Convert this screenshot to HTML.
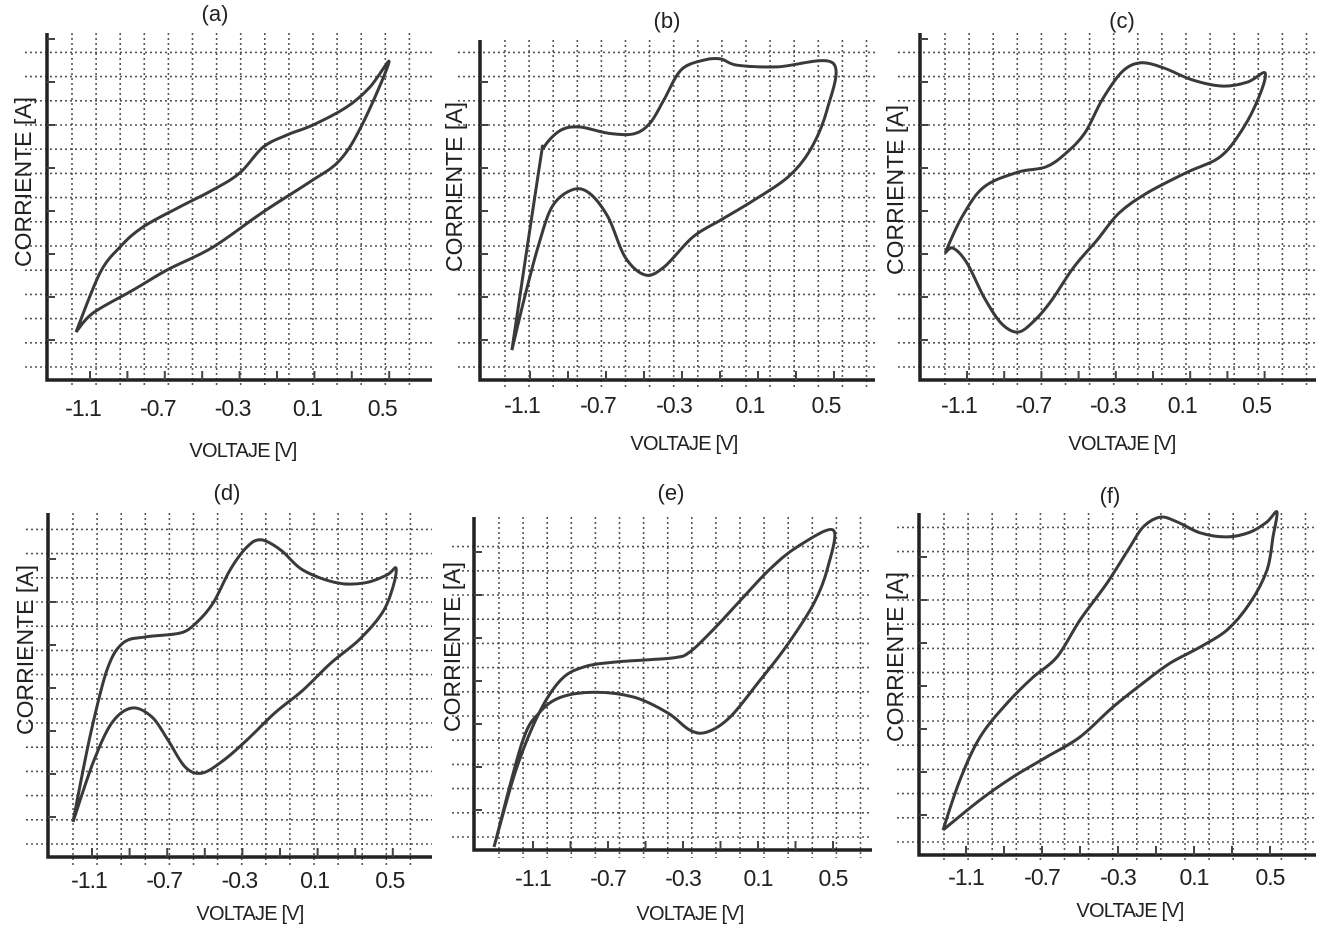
<!DOCTYPE html>
<html><head><meta charset="utf-8"><style>
html,body{margin:0;padding:0;background:#fff;}
svg{display:block;}
text{font-family:"Liberation Sans",Arial,sans-serif;fill:#222;}
</style></head><body>
<svg id="fig" width="1322" height="931" viewBox="0 0 1322 931" xmlns="http://www.w3.org/2000/svg"></svg>
<script>
// ---- data (voltage V, current in arbitrary units 0..10) ----
const tickValues = [-1.1, -0.7, -0.3, 0.1, 0.5];
const tickLabels = ["-1.1", "-0.7", "-0.3", "0.1", "0.5"];
const panelNames = ["(a)", "(b)", "(c)", "(d)", "(e)", "(f)"];

const voltA = [-1.175,-1.047,-0.940,-0.817,-0.619,-0.442,-0.298,-0.175,-0.047,0.093,0.274,0.397,0.499,0.360,0.237,0.076,-0.175,-0.442,-0.688,-0.870,-1.084,-1.175];
const currA = [1.38,3.08,3.83,4.41,4.99,5.48,5.97,6.71,7.06,7.35,7.87,8.44,9.16,7.41,6.34,5.71,4.84,3.83,3.17,2.59,1.93,1.38];

const voltB = [-1.195,-1.05,-1.026,-0.937,-0.837,-0.689,-0.553,-0.468,-0.395,-0.305,-0.184,-0.095,-0.011,0.200,0.495,0.463,0.374,0.258,0.079,-0.095,-0.242,-0.395,-0.495,-0.600,-0.689,-0.789,-0.879,-0.984,-1.058,-1.132,-1.195];
const currB = [0.88,6.3,6.85,7.35,7.44,7.26,7.24,7.56,8.24,9.12,9.41,9.44,9.26,9.21,9.32,7.94,6.76,5.97,5.29,4.71,4.21,3.32,3.09,3.62,4.79,5.50,5.59,5.09,3.91,2.35,0.88];

const voltC = [-1.218,-1.127,-1.009,-0.826,-0.675,-0.568,-0.466,-0.374,-0.267,-0.165,-0.041,0.110,0.276,0.411,0.502,0.470,0.378,0.260,0.077,-0.132,-0.283,-0.401,-0.525,-0.643,-0.734,-0.826,-0.917,-1.009,-1.100,-1.175,-1.218];
const currC = [3.66,4.70,5.56,5.99,6.14,6.54,7.12,8.07,8.88,9.14,8.99,8.65,8.47,8.59,8.85,8.16,7.20,6.43,5.97,5.39,4.81,4.03,3.26,2.31,1.73,1.38,1.64,2.39,3.37,3.80,3.66];

const voltD = [-1.201,-1.111,-1.020,-0.935,-0.813,-0.632,-0.547,-0.456,-0.366,-0.276,-0.201,-0.095,0.022,0.203,0.352,0.469,0.517,0.501,0.443,0.320,0.171,0.022,-0.127,-0.276,-0.398,-0.515,-0.605,-0.696,-0.781,-0.887,-0.994,-1.095,-1.201];
const currD = [1.02,3.49,5.44,6.22,6.40,6.51,6.80,7.38,8.34,9.01,9.22,8.92,8.34,7.97,7.97,8.20,8.40,7.85,7.09,6.31,5.64,4.85,4.19,3.40,2.82,2.44,2.62,3.40,4.07,4.33,3.90,2.73,1.02];

const voltE = [-1.308,-1.191,-1.068,-0.951,-0.828,-0.652,-0.353,-0.263,-0.140,0.009,0.159,0.308,0.500,0.473,0.399,0.249,0.100,-0.049,-0.172,-0.263,-0.380,-0.561,-0.769,-0.951,-1.068,-1.159,-1.308];
const currE = [0.09,2.40,4.11,5.11,5.50,5.65,5.77,5.95,6.61,7.51,8.41,9.10,9.61,8.50,7.42,6.10,5.02,3.99,3.54,3.60,4.11,4.59,4.74,4.59,4.11,3.21,0.09];

const voltF = [-1.221,-1.132,-1.026,-0.884,-0.747,-0.621,-0.500,-0.358,-0.237,-0.168,-0.079,0.011,0.132,0.274,0.395,0.484,0.537,0.516,0.484,0.395,0.274,0.132,-0.026,-0.168,-0.326,-0.500,-0.674,-0.853,-1.026,-1.221];
const currF = [0.73,2.19,3.45,4.44,5.20,5.79,6.87,7.95,9.01,9.59,9.88,9.74,9.42,9.30,9.44,9.74,10.03,9.30,8.33,7.37,6.58,6.08,5.61,5.03,4.33,3.45,2.87,2.28,1.61,0.73];

const voltSeries = [voltA, voltB, voltC, voltD, voltE, voltF];
const currSeries = [currA, currB, currC, currD, currE, currF];

// ---- layout (pixels) ----
const layout = [
 {ax:47, bot:380, top:33, right:432, x11:90, k:187, h:347, ldx:-7, tx:215, ty:13, tly:408, xlx:243, xly:450, ylx:23, yly:182},
 {ax:480, bot:380, top:40, right:875, x11:530, k:190, h:340, ldx:-8, tx:667, ty:20, tly:405, xlx:684, xly:443, ylx:454, yly:187},
 {ax:920, bot:380, top:33, right:1316, x11:967, k:186, h:347, ldx:-8, tx:1122, ty:20, tly:405, xlx:1122, xly:443, ylx:895, yly:190},
 {ax:48, bot:857, top:513, right:432, x11:92, k:188, h:344, ldx:-3, tx:227, ty:492, tly:880, xlx:250, xly:913, ylx:25, yly:650},
 {ax:474, bot:850, top:517, right:872, x11:533, k:187.5, h:333, ldx:0, tx:671, ty:492, tly:878, xlx:690, xly:913, ylx:452, yly:647},
 {ax:919, bot:855, top:513, right:1316, x11:966, k:190, h:342, ldx:0, tx:1110, ty:495, tly:877, xlx:1130, xly:910, ylx:895, yly:657}
];

const NS = "http://www.w3.org/2000/svg";
const fig = document.getElementById("fig");
function mk(tag, attrs, parent){
  const e = document.createElementNS(NS, tag);
  for (const a in attrs) e.setAttribute(a, attrs[a]);
  parent.appendChild(e);
  return e;
}
function smoothPath(pts){
  let d = "M" + pts[0][0].toFixed(1) + "," + pts[0][1].toFixed(1);
  for (let i = 0; i < pts.length - 1; i++){
    const p0 = pts[Math.max(0, i-1)], p1 = pts[i], p2 = pts[i+1], p3 = pts[Math.min(pts.length-1, i+2)];
    const c1x = p1[0] + (p2[0]-p0[0])/6, c1y = p1[1] + (p2[1]-p0[1])/6;
    const c2x = p2[0] - (p3[0]-p1[0])/6, c2y = p2[1] - (p3[1]-p1[1])/6;
    d += " C" + c1x.toFixed(1) + "," + c1y.toFixed(1) + " " + c2x.toFixed(1) + "," + c2y.toFixed(1) + " " + p2[0].toFixed(1) + "," + p2[1].toFixed(1);
  }
  return d;
}

layout.forEach((L, p) => {
  const xScale = v => L.x11 + (v + 1.1) * L.k;
  const yScale = c => L.bot - c * L.h / 10;
  const g = mk("g", {}, fig);
  
  

  const grid = mk("g", {stroke:"#555", "stroke-width":"1.6", "stroke-dasharray":"2,3", fill:"none"}, g);
  
  
  for (let x = L.ax + 25; x < L.right; x += 24.1){
    mk("line", {x1:x, y1:L.top, x2:x, y2:L.bot + 8}, grid);
  }
  for (let y = L.bot - 13; y > L.top + 12; y -= 24.2){
    mk("line", {x1:L.ax - 22, y1:y, x2:L.right, y2:y}, grid);
  }
  const axes = mk("path", {d:"M"+L.ax+","+L.top+" V"+L.bot+" H"+L.right, stroke:"#222", "stroke-width":"3.5", fill:"none"}, g);
  
  
  for (let y = L.bot - 40; y > L.top + 5; y -= 43){
    mk("line", {x1:L.ax, y1:y, x2:L.ax + 8, y2:y, stroke:"#444", "stroke-width":"2"}, g);
  }
  for (let t = 0; t < tickValues.length; t++){
    const x = xScale(tickValues[t]);
    mk("line", {x1:x, y1:L.bot - 9, x2:x, y2:L.bot, stroke:"#444", "stroke-width":"2"}, g);
    const tl = mk("text", {x:x + L.ldx, y:L.tly + 8, "text-anchor":"middle", "font-size":"23", "letter-spacing":"-1"}, g);
    tl.textContent = tickLabels[t];
    
    
    if (t < tickValues.length - 1){
      const xm = xScale((tickValues[t] + tickValues[t+1]) / 2);
      mk("line", {x1:xm, y1:L.bot - 9, x2:xm, y2:L.bot, stroke:"#444", "stroke-width":"2"}, g);
    }
  }
  const vs = voltSeries[p], cs = currSeries[p];
  const pts = vs.map((v, i) => [xScale(v), yScale(cs[i])]);
  const path = mk("path", {d:smoothPath(pts), stroke:"#3a3a3a", "stroke-width":"3", fill:"none", "stroke-linejoin":"round"}, g);
  
  
  const title = mk("text", {x:L.tx, y:L.ty + 8, "text-anchor":"middle", "font-size":"22"}, g);
  title.textContent = panelNames[p];
  
  
  const xl = mk("text", {x:L.xlx, y:L.xly + 7, "text-anchor":"middle", "font-size":"20", "letter-spacing":"-0.8"}, g);
  xl.textContent = "VOLTAJE [V]";
  
  
  const yl = mk("text", {x:0, y:0, "text-anchor":"middle", "font-size":"23", transform:"translate("+(L.ylx+8)+","+L.yly+") rotate(-90)"}, g);
  yl.textContent = "CORRIENTE [A]";
  
  
});
</script>
</body></html>
